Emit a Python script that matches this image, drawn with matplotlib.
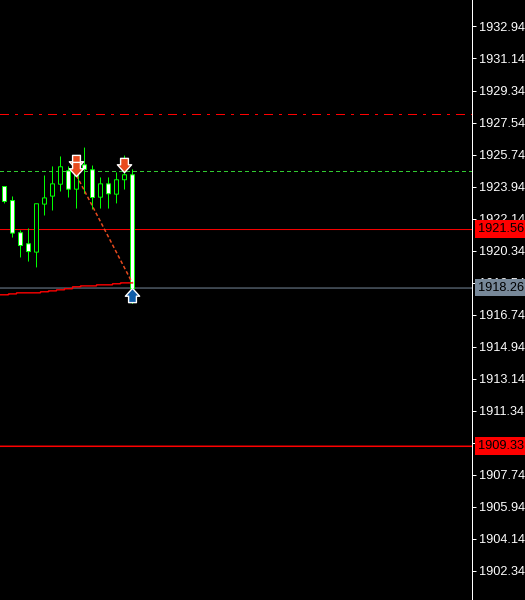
import matplotlib
matplotlib.use("Agg")
import matplotlib.pyplot as plt
from matplotlib.path import Path

BARS = list(range(17))
OPENS = [1923.94, 1923.15, 1921.34, 1920.72, 1920.25, 1922.95, 1923.40, 1924.07, 1924.82, 1923.79, 1925.16, 1924.88, 1923.34, 1924.09, 1923.51, 1924.32, 1924.60]
CLOSES = [1923.10, 1921.32, 1920.62, 1920.28, 1922.97, 1923.30, 1924.09, 1925.05, 1923.79, 1924.88, 1924.90, 1923.32, 1924.09, 1923.53, 1924.32, 1924.60, 1918.19]
HIGHS = [1923.94, 1923.38, 1921.47, 1921.58, 1922.97, 1924.56, 1925.07, 1925.63, 1925.07, 1925.68, 1926.13, 1925.12, 1924.45, 1924.45, 1924.73, 1925.68, 1924.90]
LOWS = [1922.99, 1921.07, 1919.95, 1919.72, 1919.39, 1922.31, 1922.59, 1923.66, 1923.32, 1922.70, 1923.53, 1922.65, 1922.70, 1922.70, 1922.99, 1923.77, 1917.34]
MA_X = [-1] + BARS
MA = [1917.85, 1917.85, 1917.90, 1917.96, 1917.96, 1917.96, 1918.02, 1918.07, 1918.13, 1918.19, 1918.30, 1918.35, 1918.35, 1918.41, 1918.41, 1918.47, 1918.52, 1918.52]

SELL_X = [8.9, 8.9, 14.9]
SELL_Y = [1925.34, 1924.92, 1925.17]
BUY_X = [15.9]
BUY_Y = [1917.83]
TREND_X = [9, 16]
TREND_Y = [1924.56, 1918.50]

LEVEL_DASHDOT = 1927.99
LEVEL_DASHED = 1924.784
LEVEL_RED = 1921.52
LEVEL_GRAY = 1918.23
LEVEL_LOW = 1909.33
LEVEL_RED_LABEL = 1921.56
LEVEL_GRAY_LABEL = 1918.26

TICKS = [1932.94, 1931.14, 1929.34, 1927.54, 1925.74, 1923.94, 1922.14, 1920.34, 1918.54,
         1916.74, 1914.94, 1913.14, 1911.34, 1909.54, 1907.74, 1905.94, 1904.14, 1902.34]
HIDDEN_TICKS = [1909.54]

BG = "#000000"
GREEN = "#00FF00"
RED = "#FF0000"
SLATE = "#778899"
ORANGE = "#E84A1E"
BLUE = "#0F5CA8"
PX = 0.72
TOP = 1934.43

plt.rcParams["font.family"] = ["Liberation Sans", "DejaVu Sans"]

fig = plt.figure(figsize=(5.25, 6.0), dpi=100, facecolor=BG)
ax = fig.add_axes([0, 0, 472 / 525, 1], facecolor=BG)
ax.set_xlim(-0.5625, 58.4375)
ax.set_ylim(TOP - 600 / 17.78, TOP)

for s in ("top", "left", "bottom"):
    ax.spines[s].set_visible(False)
ax.spines["right"].set_color("white")
ax.spines["right"].set_linewidth(PX)
ax.set_xticks([])
ax.yaxis.tick_right()
ax.set_yticks(TICKS)
ax.set_yticklabels(["" if t in HIDDEN_TICKS else f"{t:.2f}" for t in TICKS])
ax.tick_params(axis="y", colors="white", length=3, width=PX, labelsize=9.2, pad=2.4, direction="out")

ax.axhline(LEVEL_DASHDOT, color=RED, lw=PX, dashes=(9, 6, 3, 6), snap=False, zorder=1)
ax.axhline(LEVEL_DASHED, color="#32CD32", lw=PX, dashes=(4, 3), snap=False, zorder=1)
ax.axhline(LEVEL_RED, color=RED, lw=PX, snap=False, zorder=1)
ax.axhline(LEVEL_GRAY, color=SLATE, lw=PX, snap=False, zorder=1)
ax.axhline(LEVEL_LOW, color=RED, lw=1.1, snap=False, zorder=1)

ax.step(MA_X, MA, where="mid", color=RED, lw=1.0, snap=False, zorder=4, solid_joinstyle="miter")

ax.vlines(BARS, LOWS, HIGHS, color=GREEN, lw=PX, snap=False, zorder=2)
for x, o, c in zip(BARS, OPENS, CLOSES):
    face = "white" if c < o else "black"
    ax.bar(x, abs(c - o), bottom=min(o, c), width=0.5, facecolor=face,
           edgecolor=GREEN, linewidth=PX, snap=False, zorder=3)

ax.plot(TREND_X, TREND_Y, color=ORANGE, lw=1.08, dashes=(2.4, 1.6), zorder=5)

down = Path([(-1, 0.1), (-0.55, 0.1), (-0.55, 1), (0.55, 1), (0.55, 0.1), (1, 0.1), (0, -1), (-1, 0.1)], closed=True)
up = Path([(-1, -0.1), (-0.55, -0.1), (-0.55, -1), (0.55, -1), (0.55, -0.1), (1, -0.1), (0, 1), (-1, -0.1)], closed=True)
ax.scatter(SELL_X, SELL_Y, marker=down, s=105, facecolor=ORANGE, edgecolor="white", linewidth=1.0, zorder=6)
ax.scatter(BUY_X, BUY_Y, marker=up, s=105, facecolor=BLUE, edgecolor="white", linewidth=1.0, zorder=6)

trans = ax.get_yaxis_transform()
for level, col in ((LEVEL_RED_LABEL, RED), (LEVEL_GRAY_LABEL, SLATE), (LEVEL_LOW, RED)):
    ax.text(1.0127, level, f"{level:.2f}", transform=trans, ha="left", va="center", color="black",
            fontsize=9.2, zorder=10, clip_on=False,
            bbox=dict(boxstyle="square,pad=0.22", facecolor=col, edgecolor=col, linewidth=0))

fig.savefig("out.png", dpi=100, facecolor=BG)
